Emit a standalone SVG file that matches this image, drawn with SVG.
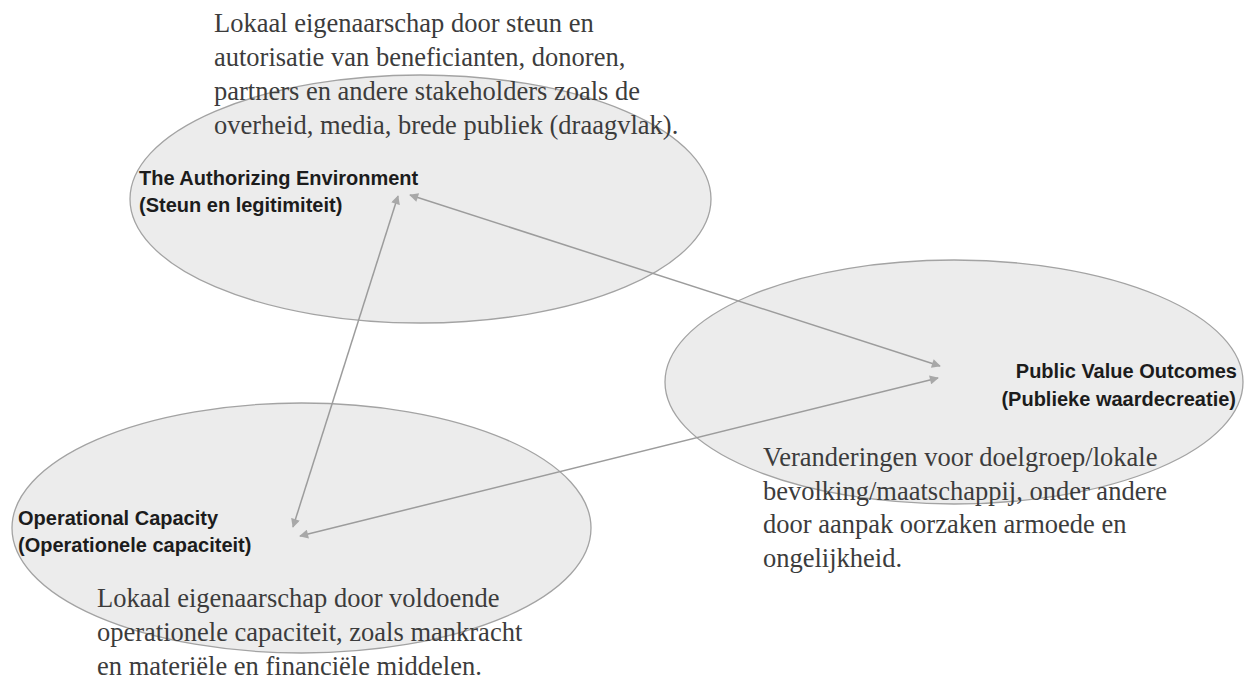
<svg xmlns="http://www.w3.org/2000/svg" width="1244" height="684" viewBox="0 0 1244 684">
<style>
.ell{fill:#ececec;stroke:#a3a3a3;stroke-width:1.3}
.lbl{font-family:"Liberation Sans",Arial,sans-serif;font-weight:bold;font-size:20px;fill:#1c1c1c}
.desc{font-family:"Liberation Serif","Times New Roman",serif;font-size:26.5px;fill:#3c3c3c}
.con{stroke:#9c9c9c;stroke-width:1.5;fill:none;marker-start:url(#ah);marker-end:url(#ah)}
</style>
<defs>
<marker id="ah" viewBox="0 0 10 10" refX="9" refY="5" markerWidth="10" markerHeight="9" markerUnits="userSpaceOnUse" orient="auto-start-reverse">
<path d="M0,0 L10,5 L0,10 z" fill="#a8a8a8"/>
</marker>
</defs>
<rect width="1244" height="684" fill="#ffffff"/>
<g id="node-authorizing">
<ellipse class="ell" cx="420.5" cy="199" rx="290.5" ry="124"/>
<text class="lbl" x="139" y="185">The Authorizing Environment</text>
<text class="lbl" x="139" y="212">(Steun en legitimiteit)</text>
</g>
<g id="node-public-value">
<ellipse class="ell" cx="954" cy="382" rx="289" ry="122"/>
<text class="lbl" x="1237" y="378" text-anchor="end">Public Value Outcomes</text>
<text class="lbl" x="1236" y="406" text-anchor="end">(Publieke waardecreatie)</text>
</g>
<g id="node-operational">
<ellipse class="ell" cx="301.5" cy="528" rx="289.5" ry="125"/>
<text class="lbl" x="18" y="525">Operational Capacity</text>
<text class="lbl" x="18" y="552">(Operationele capaciteit)</text>
</g>
<g id="connectors">
<line class="con" x1="398" y1="196" x2="293" y2="527"/>
<line class="con" x1="410" y1="195" x2="940" y2="366"/>
<line class="con" x1="300" y1="536" x2="938" y2="378"/>
</g>
<g id="desc-authorizing">
<text class="desc" x="214" y="32">Lokaal eigenaarschap door steun en</text>
<text class="desc" x="214" y="66">autorisatie van beneficianten, donoren,</text>
<text class="desc" x="214" y="100">partners en andere stakeholders zoals de</text>
<text class="desc" x="214" y="134">overheid, media, brede publiek (draagvlak).</text>
</g>
<g id="desc-public-value">
<text class="desc" x="763" y="466">Veranderingen voor doelgroep/lokale</text>
<text class="desc" x="763" y="500">bevolking/maatschappij, onder andere</text>
<text class="desc" x="763" y="533">door aanpak oorzaken armoede en</text>
<text class="desc" x="763" y="567">ongelijkheid.</text>
</g>
<g id="desc-operational">
<text class="desc" x="97" y="607">Lokaal eigenaarschap door voldoende</text>
<text class="desc" x="97" y="641">operationele capaciteit, zoals mankracht</text>
<text class="desc" x="97" y="675">en materiële en financiële middelen.</text>
</g>
</svg>
